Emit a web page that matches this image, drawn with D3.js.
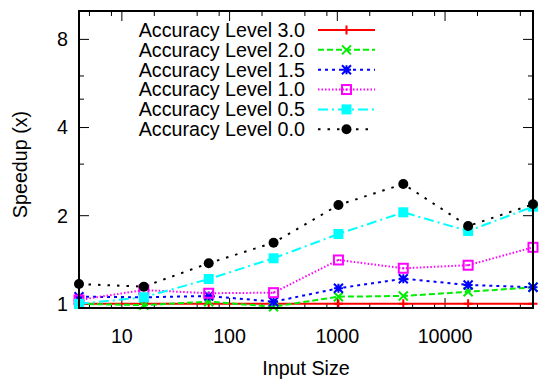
<!DOCTYPE html>
<html>
<head>
<meta charset="utf-8">
<script src="https://cdn.jsdelivr.net/npm/d3@7"></script>
<style>
  body { margin: 0; background: #fff; }
  text { font-family: "Liberation Sans", Arial, sans-serif; font-size: 19.7px; fill: #000; }
</style>
</head>
<body>
<div id="chart"></div>
<script>
// input sizes (x) and speedup per accuracy level
var inputSizes = [4, 16, 64, 256, 1024, 4096, 16384, 65536];
var level30 = [1.0, 1.0, 1.0, 1.0, 1.0, 1.0, 1.0, 1.0];
var level20 = [1.0, 0.99, 1.017, 0.978, 1.058, 1.064, 1.10, 1.139];
var level15 = [1.058, 1.053, 1.064, 1.017, 1.13, 1.219, 1.16, 1.139];
var level10 = [1.031, 1.115, 1.087, 1.092, 1.412, 1.323, 1.355, 1.56];
var level05 = [1.0, 1.053, 1.216, 1.431, 1.732, 2.054, 1.773, 2.147];
var level00 = [1.169, 1.145, 1.376, 1.618, 2.175, 2.566, 1.844, 2.187];
var seriesNames = ["Accuracy Level 3.0", "Accuracy Level 2.0", "Accuracy Level 1.5",
                   "Accuracy Level 1.0", "Accuracy Level 0.5", "Accuracy Level 0.0"];
var xTickLabels = [10, 100, 1000, 10000];
var yTickLabels = [1, 2, 4, 8];

var svgWidth = 539, svgHeight = 382;
var margin = {top: 11, right: 6, bottom: 74, left: 79};
var width = svgWidth - margin.left - margin.right;
var height = svgHeight - margin.top - margin.bottom;

var svg = d3.select("#chart").append("svg")
    .attr("width", svgWidth)
    .attr("height", svgHeight);
var chartGroup = svg.append("g")
    .attr("transform", `translate(${margin.left}, ${margin.top})`);

var x = d3.scaleLog().base(10).domain([4, 65536]).range([0, width]);
var y = d3.scaleLog().base(2).domain([0.968, 10]).range([height, 0]);

// styles per series
var styles = [
  {color: "#ff0000", dash: null, marker: "plus"},
  {color: "#00ee00", dash: "6,3", marker: "cross"},
  {color: "#0000ff", dash: "3,4", marker: "star"},
  {color: "#ff00ff", dash: "1.5,2", marker: "openSquare"},
  {color: "#00ffff", dash: "10,4,2,4", marker: "filledSquare"},
  {color: "#000000", dash: "2.5,7", marker: "circle"}
];
var allValues = [level30, level20, level15, level10, level05, level00];

function drawMarker(g, kind, color, cx, cy) {
  var s = 4.5;
  if (kind == "plus") {
    g.append("path").attr("d", `M${cx - s},${cy}H${cx + s}M${cx},${cy - s}V${cy + s}`)
      .attr("stroke", color).attr("stroke-width", 2);
  } else if (kind == "cross") {
    g.append("path").attr("d", `M${cx - s},${cy - s}L${cx + s},${cy + s}M${cx - s},${cy + s}L${cx + s},${cy - s}`)
      .attr("stroke", color).attr("stroke-width", 2);
  } else if (kind == "star") {
    g.append("path").attr("d", `M${cx - s},${cy}H${cx + s}M${cx},${cy - s}V${cy + s}M${cx - s},${cy - s}L${cx + s},${cy + s}M${cx - s},${cy + s}L${cx + s},${cy - s}`)
      .attr("stroke", color).attr("stroke-width", 2);
  } else if (kind == "openSquare") {
    g.append("rect").attr("x", cx - 4.5).attr("y", cy - 4.5).attr("width", 9).attr("height", 9)
      .attr("fill", "none").attr("stroke", color).attr("stroke-width", 2);
    g.append("rect").attr("x", cx - 1).attr("y", cy - 1).attr("width", 2).attr("height", 2)
      .attr("fill", color);
  } else if (kind == "filledSquare") {
    g.append("rect").attr("x", cx - 5).attr("y", cy - 5).attr("width", 10).attr("height", 10)
      .attr("fill", color);
  } else {
    g.append("circle").attr("cx", cx).attr("cy", cy).attr("r", 5).attr("fill", color);
  }
}

// ticks (all four sides, gnuplot style)
var xMinor = [];
[1, 10, 100, 1000, 10000].forEach(p => [2, 5, 8].forEach(m => { if (m * p > 4 && m * p < 65536) xMinor.push(m * p); }));
var yMinor = [3, 5, 6];
var ticks = chartGroup.append("g").attr("stroke", "#000").attr("stroke-width", 1);
xTickLabels.forEach(v => {
  ticks.append("line").attr("x1", x(v)).attr("x2", x(v)).attr("y1", height).attr("y2", height - 10);
  ticks.append("line").attr("x1", x(v)).attr("x2", x(v)).attr("y1", 0).attr("y2", 10);
});
xMinor.forEach(v => {
  ticks.append("line").attr("x1", x(v)).attr("x2", x(v)).attr("y1", height).attr("y2", height - 5);
  ticks.append("line").attr("x1", x(v)).attr("x2", x(v)).attr("y1", 0).attr("y2", 5);
});
yTickLabels.forEach(v => {
  ticks.append("line").attr("x1", 0).attr("x2", 10).attr("y1", y(v)).attr("y2", y(v));
  ticks.append("line").attr("x1", width).attr("x2", width - 10).attr("y1", y(v)).attr("y2", y(v));
});
yMinor.forEach(v => {
  ticks.append("line").attr("x1", 0).attr("x2", 5).attr("y1", y(v)).attr("y2", y(v));
  ticks.append("line").attr("x1", width).attr("x2", width - 5).attr("y1", y(v)).attr("y2", y(v));
});

// tick labels
chartGroup.selectAll(".xlab").data(xTickLabels).enter().append("text")
  .attr("x", d => x(d)).attr("y", height + 35)
  .attr("text-anchor", "middle").text(d => d);
chartGroup.selectAll(".ylab").data(yTickLabels).enter().append("text")
  .attr("x", -11).attr("y", d => y(d)).attr("dy", "0.35em")
  .attr("text-anchor", "end").text(d => d);

// axis titles
chartGroup.append("text")
  .attr("transform", "rotate(-90)")
  .attr("x", -height / 2 - 5).attr("y", -52)
  .attr("text-anchor", "middle").text("Speedup (x)");
chartGroup.append("text")
  .attr("x", width / 2).attr("y", height + 67)
  .attr("text-anchor", "middle").text("Input Size");

// series lines + markers
var line = d3.line().x(d => x(d[0])).y(d => y(d[1]));
allValues.forEach((vals, i) => {
  var st = styles[i];
  var pts = inputSizes.map((s, j) => [s, vals[j]]);
  var g = chartGroup.append("g");
  g.append("path").datum(pts).attr("d", line)
    .attr("fill", "none").attr("stroke", st.color).attr("stroke-width", 2)
    .attr("stroke-dasharray", st.dash);
  pts.forEach(p => drawMarker(g, st.marker, st.color, x(p[0]), y(p[1])));
});

// frame
chartGroup.append("rect").attr("width", width).attr("height", height)
  .attr("fill", "none").attr("stroke", "#000").attr("stroke-width", 2);

// legend
var legend = svg.append("g");
seriesNames.forEach((name, i) => {
  var st = styles[i];
  var ly = 30 + i * 19.85;
  legend.append("text").attr("x", 305).attr("y", ly).attr("dy", "0.35em")
    .attr("text-anchor", "end").text(name);
  legend.append("line").attr("x1", 318).attr("x2", 375).attr("y1", ly).attr("y2", ly)
    .attr("stroke", st.color).attr("stroke-width", 2).attr("stroke-dasharray", st.dash);
  drawMarker(legend, st.marker, st.color, 346.5, ly);
});
</script>
</body>
</html>
